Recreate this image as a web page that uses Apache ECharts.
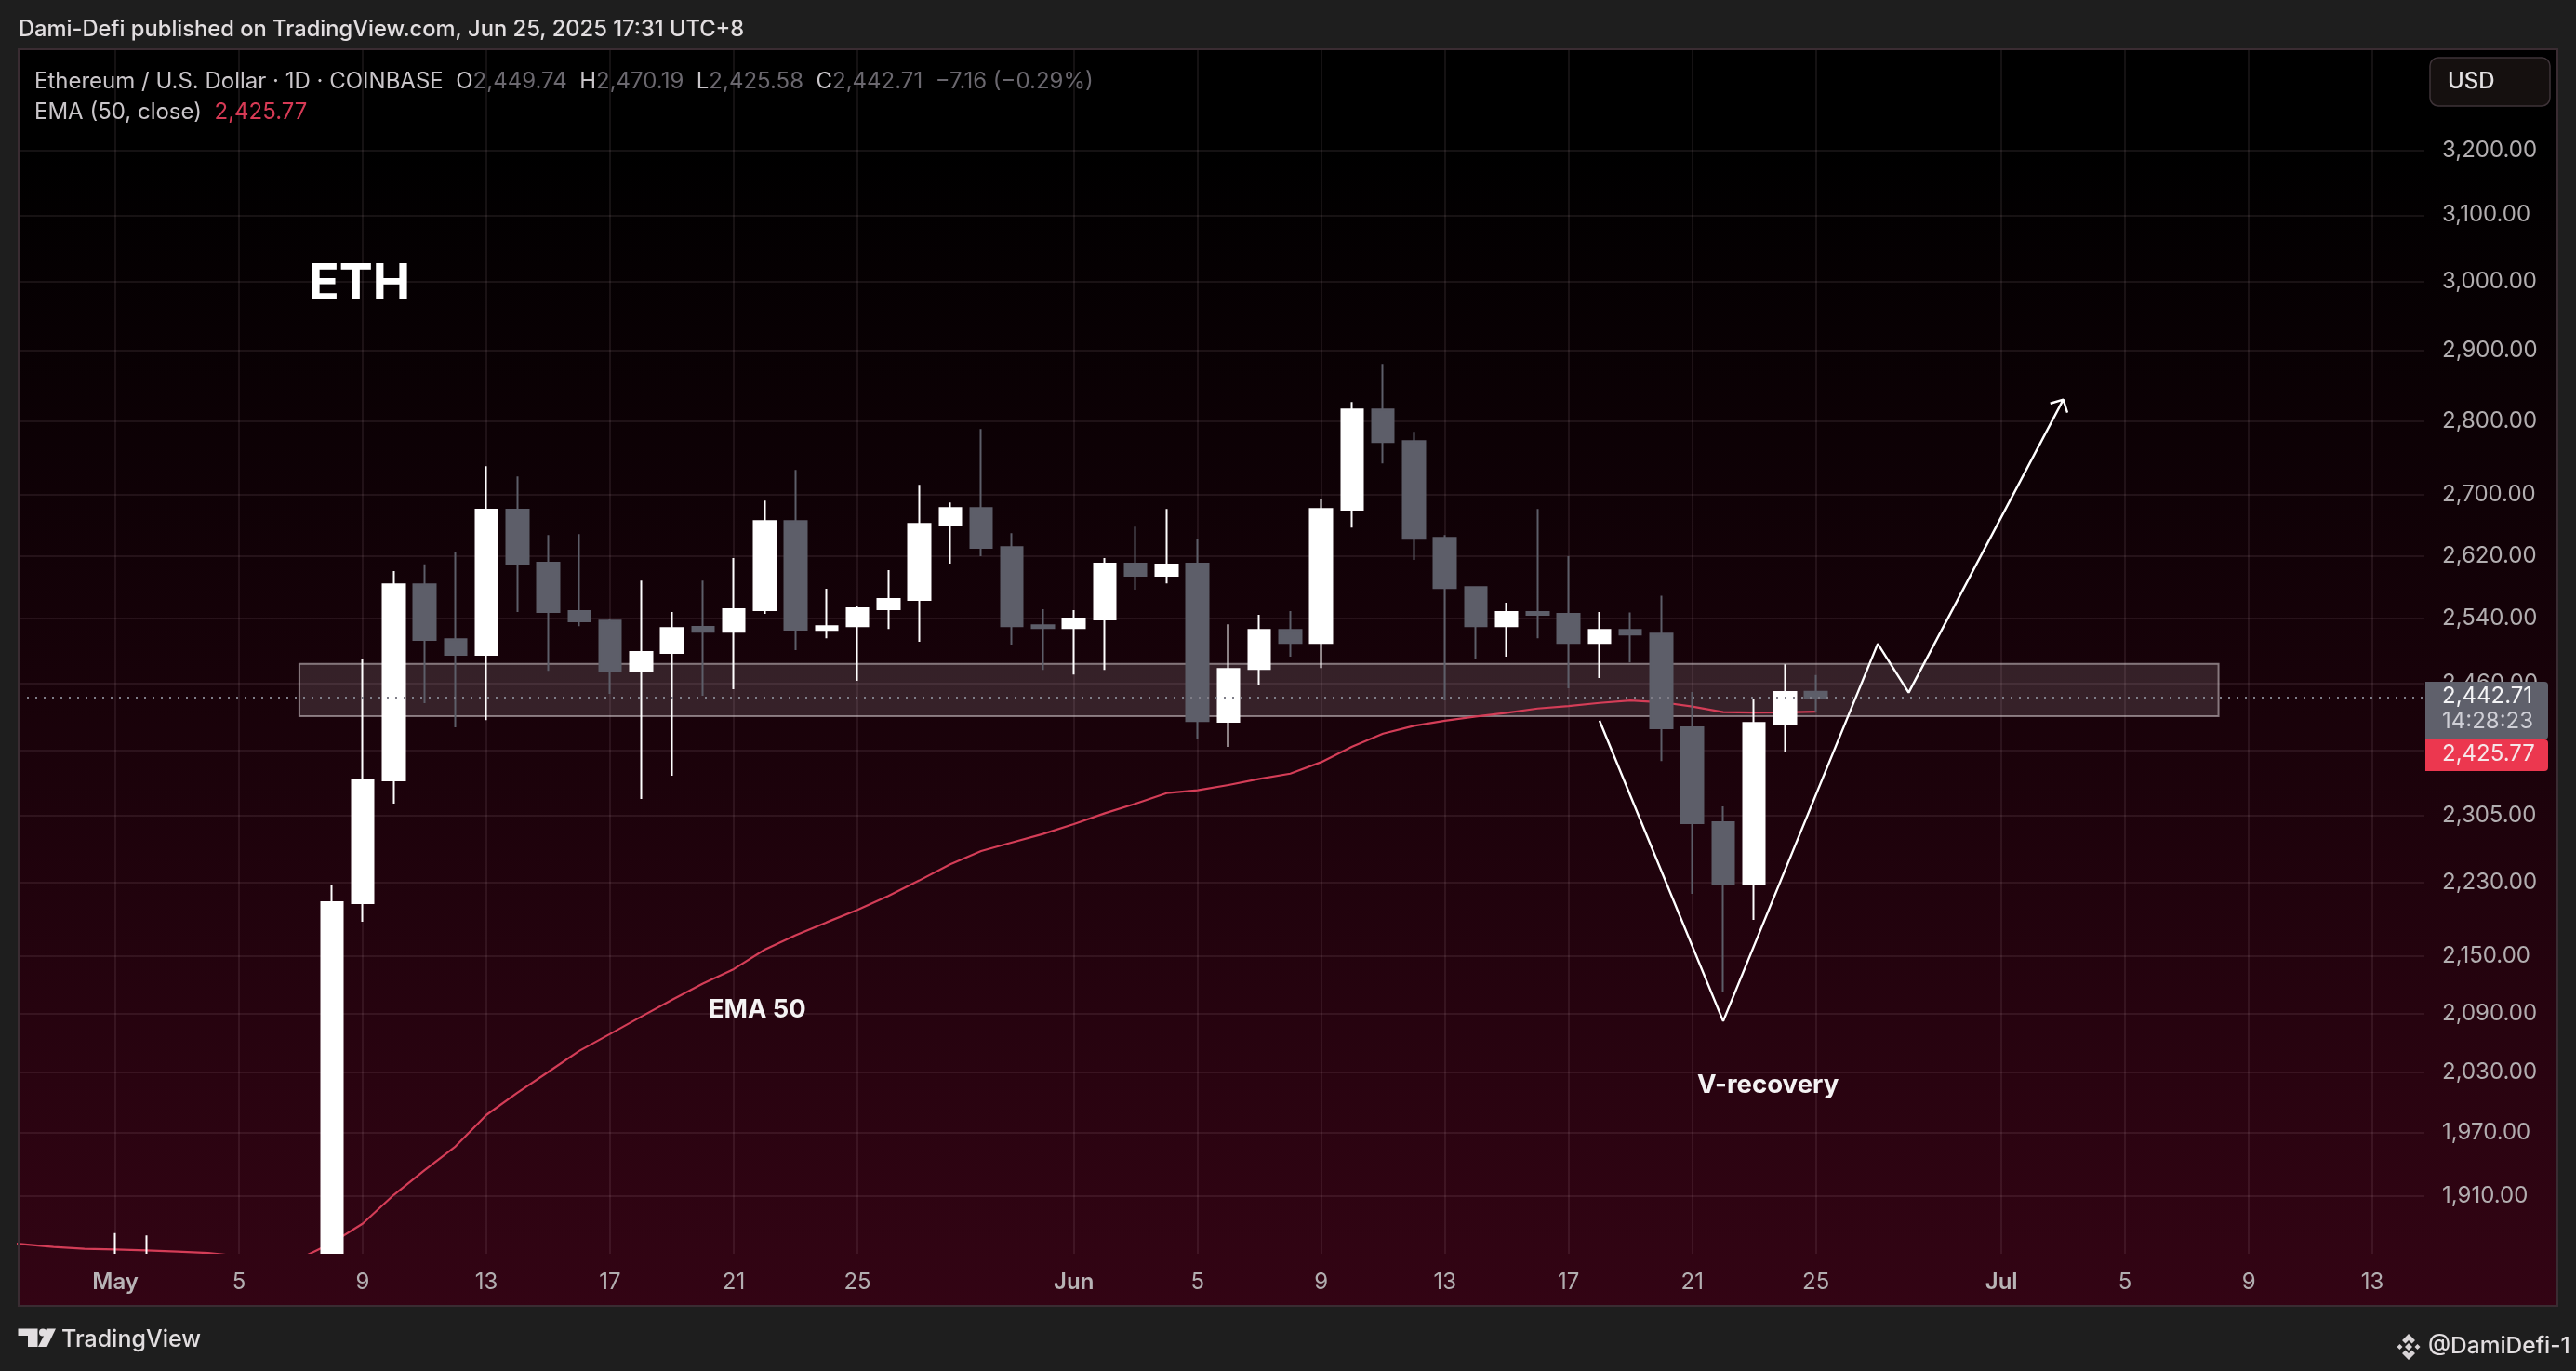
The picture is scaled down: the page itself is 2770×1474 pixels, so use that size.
<!DOCTYPE html>
<html><head><meta charset="utf-8">
<style>html,body{margin:0;padding:0;background:#1e1e1e}#c{width:2770px;height:1474px}</style>
<script src="https://cdn.jsdelivr.net/npm/echarts@6/dist/echarts.min.js"></script>
</head><body><div id="c"></div>
<script>
// day numbers count from May 1 = 0
const candleDays=[0,1,2,3,4,5,6,7,8,9,10,11,12,13,14,15,16,17,18,19,20,21,22,23,24,25,26,27,28,29,30,31,32,33,34,35,36,37,38,39,40,41,42,43,44,45,46,47,48,49,50,51,52,53,54,55];
const opens=[1793,1840,1845,1810,1808,1815,1788,1811,2206.9,2344.9,2583.3,2514.3,2494.8,2680.1,2610.9,2549.3,2537.5,2475.3,2497.1,2529.4,2523.5,2550.5,2665.3,2525.8,2530.5,2551.6,2563.4,2660.4,2682.5,2631.3,2531.6,2528.2,2538.7,2609.7,2594.1,2609.7,2413.6,2477.6,2525.8,2509.7,2680.1,2816.3,2772.5,2643.3,2579.8,2530.5,2548.1,2545.8,2509.7,2525.8,2521.1,2407,2296.8,2227.4,2411.3,2449.74];
const closes=[1840,1845,1810,1808,1815,1788,1811,2208,2344.9,2583.3,2513.2,2494.8,2680.1,2609.7,2548.1,2536.4,2475.3,2498.3,2528.2,2523.5,2551.6,2665.3,2526,2530.5,2552.8,2564.5,2661.6,2682.5,2630.1,2530.5,2528.2,2539.9,2609.7,2594.1,2608.5,2414.7,2477.6,2525.8,2509.7,2681.3,2816.3,2771.2,2642.1,2578.6,2530.5,2548.1,2544.6,2509.7,2525.8,2519.9,2405.9,2295.8,2227.4,2412.4,2449.4,2442.71];
const lows=[1790,1805,1800,1790,1780,1775,1750,1800,2186.8,2318.1,2436,2407,2415.8,2548.1,2475.3,2530.5,2447.2,2323.5,2350.2,2444.9,2452.8,2545.8,2500.5,2515.2,2462.9,2527,2510.9,2609.7,2619.3,2507.4,2476.4,2470.6,2476.4,2576.3,2584.5,2392.8,2384,2458.4,2492.5,2478.7,2656.7,2742.3,2614.5,2439.3,2490.2,2492.5,2515.2,2453.9,2466.3,2485.6,2367.4,2217.1,2112.8,2188.8,2377.4,2425.58];
const highs=[1875,1873,1850,1842,1838,1822,1850,2226.4,2490.2,2600.1,2608.9,2625.3,2738.5,2724.7,2646.9,2648.1,2539.9,2588.1,2548.1,2588.1,2616.9,2692.3,2733.5,2577.5,2555.1,2601.3,2713.4,2689.9,2789.2,2649.3,2551.6,2550.5,2616.9,2657.9,2681.3,2642.1,2532.8,2544.6,2549.3,2694.7,2826.6,2880.4,2785.4,2646.9,2581,2559.8,2681.3,2619.3,2548.1,2547.5,2568.7,2449.4,2314.9,2441,2483.3,2470.19];
const emaDays=[-4,-3,-2,-1,0,1,2,3,4,5,6,7,8,9,10,11,12,13,14,15,16,17,18,19,20,21,22,23,24,25,26,27,28,29,30,31,32,33,34,35,36,37,38,39,40,41,42,43,44,45,46,47,48,49,50,51,52,53,54,55];
const emaValues=[1867,1864.8,1862.3,1860.6,1860,1859.1,1858,1856.7,1853.8,1851.2,1852.1,1865.9,1883.9,1910.7,1934.3,1957.1,1987.7,2009.6,2030.4,2051.6,2068.9,2086.5,2104,2120.9,2136.2,2156.8,2172.3,2186.1,2199.5,2214.8,2231.8,2249.6,2264.4,2274.1,2283.6,2294.8,2307.1,2318.1,2330.2,2333.4,2339.5,2346.7,2352.7,2366.1,2384.3,2399.7,2408.9,2415,2419.9,2424.4,2429.6,2432.6,2436.3,2439.3,2437.1,2432,2425.3,2424.8,2425,2425.77];
const pathDays=[48,52,57,58,63,62.58,63,63.13];
const pathPrices=[2415.2,2082,2508.6,2448.8,2830,2824.7,2830,2812];
const zoneDays=[5.95,68.02];
const zonePrices=[2483.7,2420.3];
const lastClose=2442.71;
const priceTicks=[1910,1970,2030,2090,2150,2230,2305,2380,2460,2540,2620,2700,2800,2900,3000,3100,3200];
const dayTicks=[0,4,8,12,16,20,24,31,35,39,43,47,51,55,61,65,69,73];
const dayLabels=['May','5','9','13','17','21','25','Jun','5','9','13','17','21','25','Jul','5','9','13'];
const months=['May','Jun','Jul'];

const F='Inter, "Noto Sans", sans-serif';
const chart=echarts.init(document.getElementById('c'),null,{renderer:'canvas'});
const grid='rgba(240,205,225,0.085)';
function txt(x,y,text,size,weight,fill,extra){
  return Object.assign({type:'text',x:x,y:y,z:20,silent:true,style:Object.assign({text:text,fontFamily:F,fontSize:size,fontWeight:weight,fill:fill,verticalAlign:'middle'},extra||{})});
}
const dim='#6b686f', lab='#c9c5c9', red='#d63a55';
const stops=[{offset:0,color:'#000000'},{offset:0.08,color:'#000000'},{offset:1,color:'#330414'}];
const panelFill=new echarts.graphic.LinearGradient(0,53,0,1404,stops,true);
const xRange={min:-3.13,max:74.68};
chart.setOption({
  animation:false,
  backgroundColor:'#1e1e1e',
  grid:{left:20,right:163,top:54,bottom:126,containLabel:false},
  xAxis:[
    Object.assign({type:'value',position:'bottom',
      axisLine:{show:false},
      axisTick:{show:false,customValues:dayTicks},
      splitLine:{show:true,lineStyle:{color:grid,width:2}},
      axisLabel:{show:false}},xRange),
    Object.assign({type:'value',position:'bottom',z:10,
      axisLine:{show:false},
      axisTick:{show:false,customValues:dayTicks},
      splitLine:{show:false},
      axisLabel:{customValues:dayTicks,margin:19,fontFamily:F,fontSize:24,color:'#b2aeb0',hideOverlap:false,showMinLabel:true,showMaxLabel:true,
        formatter:function(v){const s=dayLabels[dayTicks.indexOf(v)];return months.includes(s)?'{m|'+s+'}':s;},
        rich:{m:{fontFamily:F,fontSize:24,fontWeight:600,color:'#b8b4b6'}}}},xRange)
  ],
  yAxis:{type:'log',logBase:10,min:1856,max:3363,position:'right',
    axisLine:{show:false},
    axisTick:{show:false,customValues:priceTicks},
    splitLine:{show:true,lineStyle:{color:grid,width:2}},
    minorTick:{show:false},minorSplitLine:{show:false},
    axisLabel:{customValues:priceTicks,margin:19,align:'left',fontFamily:F,fontSize:24,color:'#b2aeb0',hideOverlap:false,
      formatter:function(v){return Number(v).toLocaleString('en-US',{minimumFractionDigits:2,maximumFractionDigits:2});}}
  },
  series:[
    {type:'line',name:'EMA',z:2,symbol:'none',silent:true,clip:true,xAxisIndex:0,
      data:emaDays.map((d,i)=>[d,emaValues[i]]),
      lineStyle:{color:'#d43d57',width:2.2},
      markArea:{silent:true,z:1,itemStyle:{color:'rgba(205,195,200,0.165)',borderColor:'rgba(215,205,210,0.55)',borderWidth:2},
        data:[[{xAxis:zoneDays[0],yAxis:zonePrices[0]},{xAxis:zoneDays[1],yAxis:zonePrices[1]}]]}
    },
    {type:'candlestick',name:'ETH',z:3,silent:true,barWidth:24,xAxisIndex:0,
      data:candleDays.map((d,i)=>[d,opens[i],closes[i],lows[i],highs[i]]),
      itemStyle:{color:'#ffffff',color0:'#5d5e69',borderColor:'#ffffff',borderColor0:'#5d5e69',borderWidth:2}
    },
    {type:'line',name:'Projection',z:4,symbol:'none',silent:true,xAxisIndex:0,
      data:pathDays.map((d,i)=>[d,pathPrices[i]]),
      lineStyle:{color:'#ffffff',width:2.4},
      markLine:{silent:true,symbol:'none',z:5,label:{show:false},
        lineStyle:{color:'#7f7e88',type:[2,7],width:2},
        data:[{yAxis:lastClose}]}
    }
  ],
  graphic:{elements:[
    {type:'rect',z:-5,silent:true,shape:{x:20,y:53,width:2730,height:1351},style:{fill:panelFill}},
    // the time-scale strip and footer hide whatever falls below the price pane
    {type:'rect',z:6,silent:true,shape:{x:20,y:1348,width:2730,height:56},style:{fill:panelFill}},
    {type:'rect',z:6,silent:true,shape:{x:0,y:1404,width:2770,height:70},style:{fill:'#1e1e1e'}},
    {type:'rect',z:7,silent:true,shape:{x:20,y:53,width:2730,height:1351},style:{fill:'none',stroke:'#3a2c32',lineWidth:2}},
    txt(20,32,'Dami-Defi published on TradingView.com, Jun 25, 2025 17:31 UTC+8',23.7,500,'#e2dee0'),
    {type:'text',x:37,y:88,z:20,silent:true,style:{text:'{a|Ethereum / U.S. Dollar · 1D · COINBASE  O}{v|2,449.74}{a|  H}{v|2,470.19}{a|  L}{v|2,425.58}{a|  C}{v|2,442.71}{v|  −7.16 (−0.29%)}',verticalAlign:'middle',fontFamily:F,fontSize:24,
      rich:{a:{fontFamily:F,fontSize:24,fill:lab,color:lab},v:{fontFamily:F,fontSize:24,fill:dim,color:dim}}}},
    {type:'text',x:37,y:121,z:20,silent:true,style:{text:'{a|EMA (50, close)}{r|  2,425.77}',verticalAlign:'middle',fontFamily:F,fontSize:24,
      rich:{a:{fontFamily:F,fontSize:24,fill:lab,color:lab},r:{fontFamily:F,fontSize:24,fill:red,color:red}}}},
    {type:'rect',z:20,silent:true,shape:{x:2613,y:62,width:129,height:52,r:9},style:{fill:'#15100f',stroke:'#3e3338',lineWidth:1.5}},
    txt(2632,88,'USD',24,500,'#e4e2e3'),
    txt(332,306,'ETH',54,700,'#ffffff'),
    txt(762,1086,'EMA 50',27.3,700,'#f4f2f3'),
    txt(1825,1167,'V-recovery',27.6,700,'#f4f2f3'),
    {type:'rect',z:20,silent:true,shape:{x:2608,y:733,width:132,height:62,r:[0,4,4,0]},style:{fill:'#5f606b'}},
    txt(2626,749,'2,442.71',24,400,'#f4f4f6'),
    txt(2626,776,'14:28:23',24,400,'#cfcfd6'),
    {type:'rect',z:20,silent:true,shape:{x:2608,y:795,width:132,height:34,r:[0,4,4,0]},style:{fill:'#ec374f'}},
    txt(2626,811,'2,425.77',24,400,'#f6e6e8'),
    // footer: TradingView logo
    {type:'polygon',z:20,silent:true,shape:{points:[[19.5,1428.5],[40.5,1428.5],[40.5,1448],[30,1448],[30,1436],[19.5,1436]]},style:{fill:'#e2dee0'}},
    {type:'circle',z:20,silent:true,shape:{cx:46,cy:1432.5,r:4},style:{fill:'#e2dee0'}},
    {type:'polygon',z:20,silent:true,shape:{points:[[51,1428.5],[60,1428.5],[50.5,1448],[41,1448]]},style:{fill:'#e2dee0'}},
    txt(66,1440,'TradingView',25,500,'#e2dee0'),
    // footer: badge
    {type:'polygon',z:20,silent:true,shape:{points:[[2590,1434],[2597,1441],[2593.5,1444.5],[2590,1441],[2586.5,1444.5],[2583,1441]]},style:{fill:'#d8d4d6'}},
    {type:'polygon',z:20,silent:true,shape:{points:[[2590,1444],[2594,1448],[2590,1452],[2586,1448]]},style:{fill:'#d8d4d6'}},
    {type:'polygon',z:20,silent:true,shape:{points:[[2590,1462],[2583,1455],[2586.5,1451.5],[2590,1455],[2593.5,1451.5],[2597,1455]]},style:{fill:'#d8d4d6'}},
    {type:'polygon',z:20,silent:true,shape:{points:[[2580.5,1445],[2583.5,1448],[2580.5,1451],[2577.5,1448]]},style:{fill:'#d8d4d6'}},
    {type:'polygon',z:20,silent:true,shape:{points:[[2599.5,1445],[2602.5,1448],[2599.5,1451],[2596.5,1448]]},style:{fill:'#d8d4d6'}},
    txt(2611,1448,'@DamiDefi-1',24.5,500,'#e2dee0')
  ]}
});
</script></body></html>
